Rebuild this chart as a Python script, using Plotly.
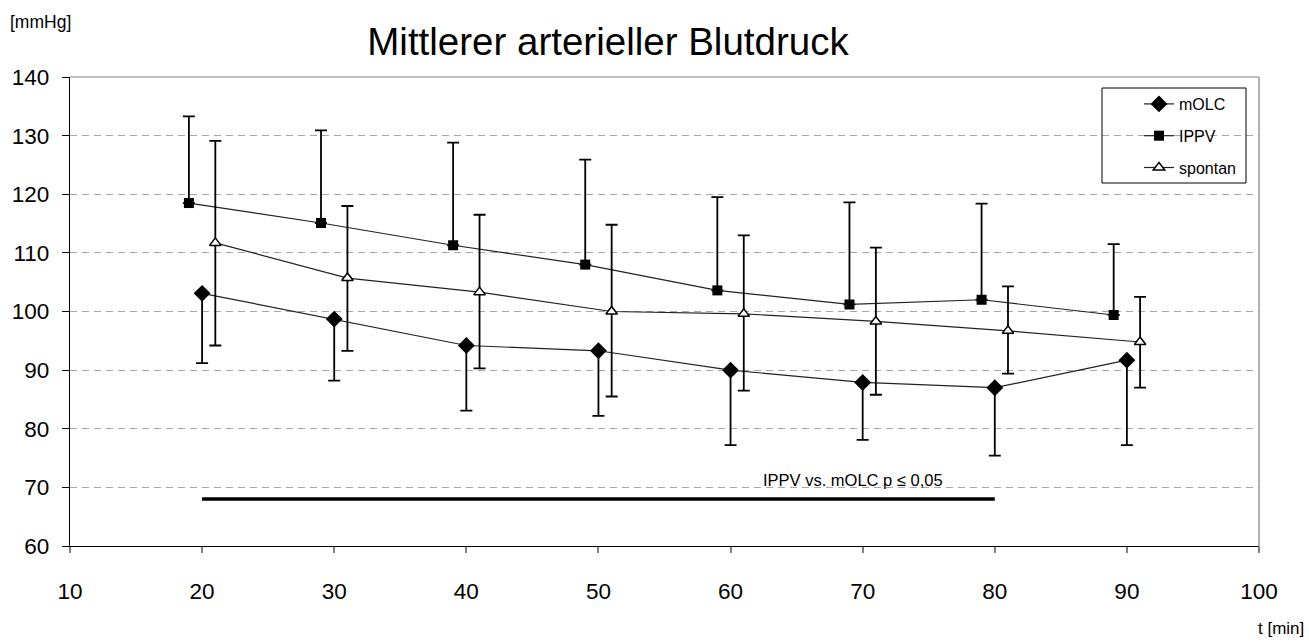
import plotly.graph_objects as go

# ---- data ----
t_molc = [20, 30, 40, 50, 60, 70, 80, 90]
t_ippv = [19, 29, 39, 49, 59, 69, 79, 89]
t_spon = [21, 31, 41, 51, 61, 71, 81, 91]

molc_mean = [103.1, 98.7, 94.2, 93.3, 90.0, 87.9, 87.0, 91.7]
molc_low = [91.2, 88.2, 83.1, 82.2, 77.2, 78.1, 75.4, 77.2]

ippv_mean = [118.5, 115.1, 111.3, 108.0, 103.6, 101.2, 102.0, 99.4]
ippv_high = [133.3, 130.9, 128.8, 125.9, 119.5, 118.6, 118.4, 111.5]

spon_mean = [111.7, 105.7, 103.3, 100.0, 99.6, 98.3, 96.7, 94.8]
spon_high = [129.1, 118.0, 116.5, 114.8, 113.0, 110.9, 104.3, 102.5]
spon_low = [94.2, 93.3, 90.3, 85.5, 86.5, 85.8, 89.4, 87.0]

sig_x = [20, 80]
sig_y = [68, 68]
sig_label = "IPPV vs. mOLC p ≤ 0,05"

x_ticks = [10, 20, 30, 40, 50, 60, 70, 80, 90, 100]
y_ticks = [60, 70, 80, 90, 100, 110, 120, 130, 140]

FONT = "Liberation Sans, Arial, sans-serif"

# plot area in pixels
L, R, T, B = 70, 1259, 77, 546
W, H = 1309, 644
pw, ph = R - L, B - T


def px(xp):
    return (xp - L) / pw


def py(yp):
    return (B - yp) / ph


fig = go.Figure()

# significance bar
fig.add_trace(go.Scatter(x=sig_x, y=sig_y, mode="lines",
                         line=dict(color="black", width=3.5),
                         showlegend=False, hoverinfo="skip"))

err_style = dict(type="data", symmetric=False, color="black", thickness=1.8, width=6)

fig.add_trace(go.Scatter(
    x=t_molc, y=molc_mean, name="mOLC", mode="lines+markers",
    line=dict(color="#222222", width=1.2),
    marker=dict(symbol="diamond", size=13, color="black"),
    error_y=dict(array=[0] * len(molc_mean),
                 arrayminus=[m - l for m, l in zip(molc_mean, molc_low)], **err_style),
    legendgroup="a"))

fig.add_trace(go.Scatter(
    x=t_ippv, y=ippv_mean, name="IPPV", mode="lines+markers",
    line=dict(color="#222222", width=1.2),
    marker=dict(symbol="square", size=10, color="black"),
    error_y=dict(array=[h - m for h, m in zip(ippv_high, ippv_mean)],
                 arrayminus=[0] * len(ippv_mean), **err_style),
    legendgroup="b"))

fig.add_trace(go.Scatter(
    x=t_spon, y=spon_mean, name="spontan", mode="lines+markers",
    line=dict(color="#222222", width=1.2),
    marker=dict(symbol="triangle-up", size=10, color="white",
                line=dict(color="black", width=1.5)),
    error_y=dict(array=[h - m for h, m in zip(spon_high, spon_mean)],
                 arrayminus=[m - l for m, l in zip(spon_mean, spon_low)], **err_style),
    legendgroup="c"))

fig.update_layout(
    width=W, height=H,
    margin=dict(l=L, r=W - R, t=T, b=H - B),
    paper_bgcolor="white", plot_bgcolor="white",
    font=dict(family=FONT, color="black"),
    title=dict(text="Mittlerer arterieller Blutdruck",
               font=dict(family=FONT, size=38.5, color="black"),
               x=px(608), xref="paper", xanchor="center",
               y=1 - 42 / H, yref="container", yanchor="middle"),
    showlegend=True,
    legend=dict(x=px(1139), y=py(87), xanchor="left", yanchor="top",
                bgcolor="rgba(0,0,0,0)", borderwidth=0,
                font=dict(family=FONT, size=16, color="black"),
                traceorder="grouped", tracegroupgap=8),
    xaxis=dict(range=[10, 100], tickvals=x_ticks, showgrid=False, zeroline=False,
               showline=True, linecolor="black", linewidth=1.2,
               ticks="outside", ticklen=6, tickcolor="#808080", tickwidth=1.5,
               tickfont=dict(family=FONT, size=22.5, color="black"),
               ticklabelstandoff=19),
    yaxis=dict(range=[60, 140], tickvals=y_ticks, zeroline=False,
               showgrid=True, gridcolor="#a6a6a6", gridwidth=1, griddash="7px,5px",
               showline=True, linecolor="black", linewidth=1.2,
               ticks="outside", ticklen=7, tickcolor="black", tickwidth=1,
               tickfont=dict(family=FONT, size=22.5, color="black"),
               ticklabelstandoff=8),
    shapes=[
        dict(type="line", xref="paper", yref="paper", x0=0, x1=1, y0=1, y1=1,
             line=dict(color="#808080", width=1.2)),
        dict(type="line", xref="paper", yref="paper", x0=1, x1=1, y0=py(553), y1=1,
             line=dict(color="#808080", width=1.2)),
        dict(type="rect", xref="paper", yref="paper",
             x0=px(1102), x1=px(1246), y0=py(183), y1=py(88),
             line=dict(color="black", width=1), fillcolor="rgba(0,0,0,0)"),
    ],
    annotations=[
        dict(text=sig_label, x=69.3, y=71.2, xref="x", yref="y",
             showarrow=False, xanchor="center", yanchor="middle",
             font=dict(family=FONT, size=16.5, color="black")),
        dict(text="[mmHg]", x=px(8), y=py(22), xref="paper", yref="paper",
             showarrow=False, xanchor="left", yanchor="middle",
             font=dict(family=FONT, size=17.5, color="black")),
        dict(text="t [min]", x=px(1306), y=py(628), xref="paper", yref="paper",
             showarrow=False, xanchor="right", yanchor="middle",
             font=dict(family=FONT, size=17, color="black")),
    ],
)

fig.write_html("out.html")
